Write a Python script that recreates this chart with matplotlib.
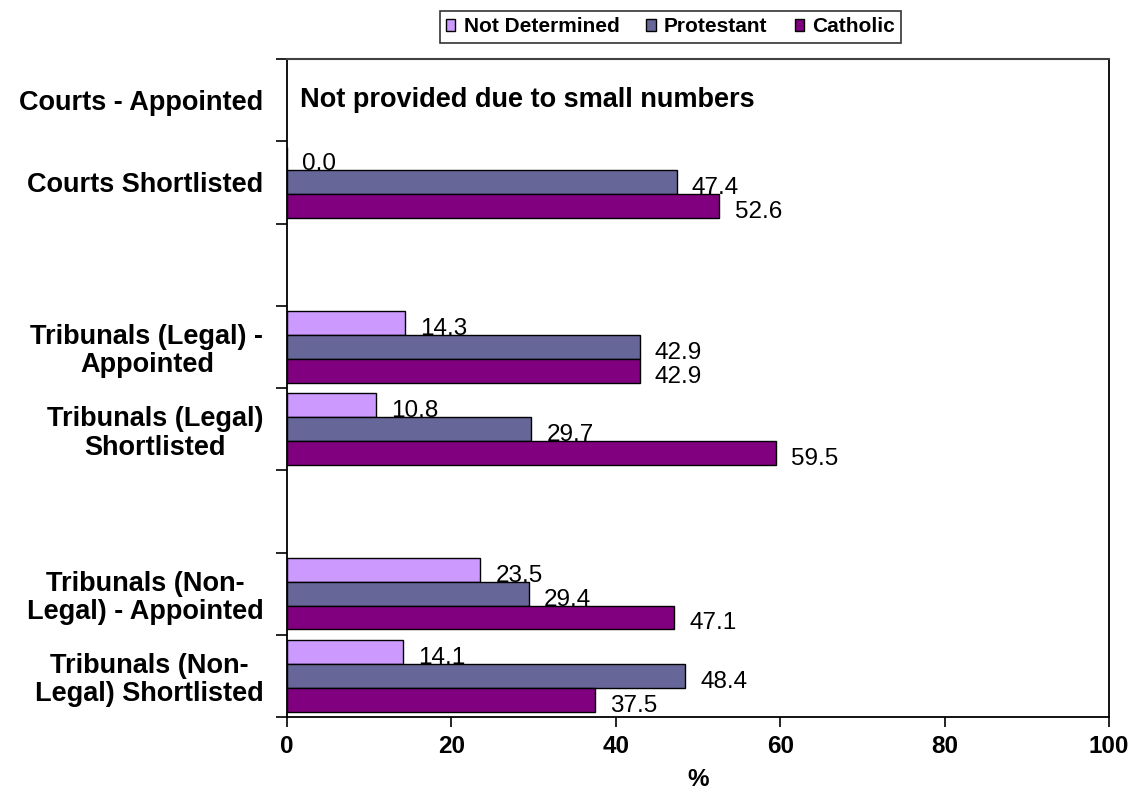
import numpy as np
import matplotlib
matplotlib.use("Agg")
import matplotlib.pyplot as plt

plt.rcParams['font.family'] = ['Liberation Sans', 'DejaVu Sans']

categories = [
    "Courts - Appointed",
    "Courts Shortlisted",
    "",
    "Tribunals (Legal) -\nAppointed",
    "Tribunals (Legal)\nShortlisted",
    "",
    "Tribunals (Non-\nLegal) - Appointed",
    "Tribunals (Non-\nLegal) Shortlisted",
]
series_names = ["Not Determined", "Protestant", "Catholic"]
not_determined = [np.nan, 0.0, np.nan, 14.3, 10.8, np.nan, 23.5, 14.1]
protestant = [np.nan, 47.4, np.nan, 42.9, 29.7, np.nan, 29.4, 48.4]
catholic = [np.nan, 52.6, np.nan, 42.9, 59.5, np.nan, 47.1, 37.5]
x_ticks = [0, 20, 40, 60, 80, 100]
note_text = "Not provided due to small numbers"

colors = ["#CC99FF", "#666699", "#800080"]

fig = plt.figure(figsize=(11.32, 7.91), dpi=100)
ax = fig.add_axes([287 / 1132, 1 - 717 / 791, (1109 - 287) / 1132, (717 - 59) / 791])

y = np.arange(len(categories))
bar_h = 0.29
offsets = [-bar_h, 0.0, bar_h]
series = [not_determined, protestant, catholic]

for vals, off, col, name in zip(series, offsets, colors, series_names):
    vals = np.array(vals, dtype=float)
    ax.barh(y + off, vals, height=bar_h, color=col, edgecolor="black",
            linewidth=1.0, label=name)
    for yi, v in zip(y, vals):
        if np.isnan(v):
            continue
        ax.annotate(f"{v:.1f}", xy=(v, yi + off + bar_h / 2), xytext=(11, 0),
                    textcoords="offset points", ha="left", va="baseline",
                    fontsize=17.5, color="black")

ax.set_xlim(0, 100)
ax.set_ylim(len(categories) - 0.5, -0.5)

ax.set_xticks(x_ticks)
ax.set_xticklabels([str(t) for t in x_ticks], fontsize=17.5, fontweight="bold")
ax.tick_params(axis="x", direction="out", length=7, width=1.2, pad=6)

ax.set_yticks(y)
ax.set_yticklabels(categories, fontsize=19.5, fontweight="bold")
for lab in ax.get_yticklabels():
    lab.set_multialignment("center")
    lab.set_linespacing(1.12)
ax.tick_params(axis="y", which="major", length=0, pad=17)
ax.set_yticks(np.arange(-0.5, len(categories) + 0.5, 1.0), minor=True)
ax.tick_params(axis="y", which="minor", direction="out", length=8, width=1.2)

ax.set_xlabel("%", fontsize=17.5, fontweight="bold")
ax.xaxis.set_label_coords(0.5, -(779 - 717) / (717 - 59))
ax.xaxis.label.set_va("center")

for side in ["left", "bottom", "right"]:
    ax.spines[side].set_color("black")
    ax.spines[side].set_linewidth(1.3)
ax.spines["top"].set_color("#404040")
ax.spines["top"].set_linewidth(1.5)

ax.text(1.6, 0, note_text, fontsize=19.5, fontweight="bold",
        va="center", ha="left")

leg = fig.legend(loc="center", bbox_to_anchor=(670.5 / 1132, 1 - 27 / 791), ncol=3,
                 frameon=True, fancybox=False, edgecolor="black",
                 prop={"weight": "bold", "size": 15}, handlelength=0.45,
                 handleheight=0.45, handletextpad=0.4, columnspacing=1.3,
                 borderpad=0.3, borderaxespad=0)
leg.get_frame().set_linewidth(1.2)

fig.savefig("out.png", dpi=100)
